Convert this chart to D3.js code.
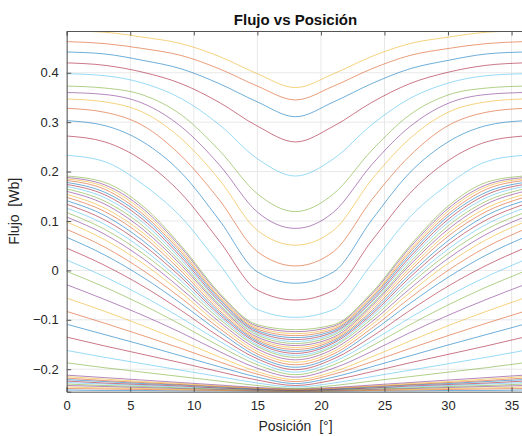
<!DOCTYPE html>
<html>
<head>
<meta charset="utf-8">
<script src="https://cdn.jsdelivr.net/npm/d3@7/dist/d3.min.js"></script>
<style>
body{margin:0;background:#fff;}
#my_dataviz{width:522px;height:436px;overflow:hidden;}
text{font-family:"Liberation Sans",Arial,sans-serif;}
</style>
</head>
<body>
<div id="my_dataviz"></div>
<script>
//Posiciones muestreadas [°]
var posicion = [0, 3, 6, 9, 12, 15, 18, 21, 24, 27, 30, 33, 36];
//Marcas de los ejes
var ticksX = [0, 5, 10, 15, 20, 25, 30, 35];
var ticksY = [-0.2, -0.1, 0, 0.1, 0.2, 0.3, 0.4];
var limX = [0, 36];
var limY = [-0.2455, 0.4845];
//Textos
var titulo = "Flujo vs Posición";
var etiquetaX = "Posición  [°]";
var etiquetaY = "Flujo  [Wb]";
//Flujo [Wb] de cada curva (de abajo hacia arriba)
var flujo = [
  [-0.242,-0.243,-0.243,-0.244,-0.244,-0.245,-0.245,-0.245,-0.244,-0.244,-0.243,-0.243,-0.242],
  [-0.239,-0.240,-0.241,-0.242,-0.243,-0.244,-0.245,-0.244,-0.243,-0.242,-0.241,-0.240,-0.239],
  [-0.236,-0.238,-0.239,-0.241,-0.242,-0.244,-0.245,-0.244,-0.242,-0.241,-0.239,-0.238,-0.236],
  [-0.233,-0.235,-0.237,-0.239,-0.241,-0.243,-0.244,-0.243,-0.241,-0.239,-0.237,-0.235,-0.233],
  [-0.230,-0.233,-0.235,-0.238,-0.240,-0.242,-0.244,-0.242,-0.240,-0.238,-0.235,-0.233,-0.230],
  [-0.227,-0.230,-0.233,-0.236,-0.238,-0.241,-0.243,-0.241,-0.238,-0.236,-0.233,-0.230,-0.227],
  [-0.224,-0.228,-0.231,-0.234,-0.238,-0.241,-0.243,-0.241,-0.238,-0.234,-0.231,-0.228,-0.224],
  [-0.221,-0.225,-0.229,-0.232,-0.236,-0.240,-0.242,-0.240,-0.236,-0.232,-0.229,-0.225,-0.221],
  [-0.218,-0.223,-0.227,-0.231,-0.235,-0.239,-0.242,-0.239,-0.235,-0.231,-0.227,-0.223,-0.218],
  [-0.215,-0.220,-0.225,-0.229,-0.234,-0.238,-0.241,-0.238,-0.234,-0.229,-0.225,-0.220,-0.215],
  [-0.212,-0.217,-0.222,-0.227,-0.232,-0.237,-0.240,-0.237,-0.232,-0.227,-0.222,-0.217,-0.212],
  [-0.187,-0.197,-0.206,-0.215,-0.224,-0.233,-0.239,-0.233,-0.224,-0.215,-0.206,-0.197,-0.187],
  [-0.162,-0.176,-0.189,-0.202,-0.215,-0.228,-0.236,-0.228,-0.215,-0.202,-0.189,-0.176,-0.162],
  [-0.135,-0.153,-0.170,-0.187,-0.205,-0.222,-0.233,-0.222,-0.205,-0.187,-0.170,-0.153,-0.135],
  [-0.109,-0.130,-0.151,-0.173,-0.195,-0.216,-0.229,-0.216,-0.195,-0.173,-0.151,-0.130,-0.109],
  [-0.083,-0.107,-0.132,-0.158,-0.185,-0.210,-0.225,-0.210,-0.185,-0.158,-0.132,-0.107,-0.083],
  [-0.056,-0.083,-0.112,-0.143,-0.175,-0.205,-0.221,-0.205,-0.175,-0.143,-0.112,-0.083,-0.056],
  [-0.029,-0.059,-0.091,-0.126,-0.164,-0.198,-0.216,-0.198,-0.164,-0.126,-0.091,-0.059,-0.029],
  [-0.002,-0.034,-0.070,-0.110,-0.153,-0.191,-0.211,-0.191,-0.153,-0.110,-0.070,-0.034,-0.002],
  [0.021,-0.013,-0.052,-0.096,-0.143,-0.185,-0.206,-0.185,-0.143,-0.096,-0.052,-0.013,0.021],
  [0.045,0.010,-0.032,-0.081,-0.134,-0.179,-0.201,-0.179,-0.134,-0.081,-0.032,0.010,0.045],
  [0.067,0.031,-0.014,-0.067,-0.124,-0.174,-0.196,-0.174,-0.124,-0.067,-0.014,0.031,0.067],
  [0.083,0.047,0.000,-0.056,-0.117,-0.169,-0.191,-0.169,-0.117,-0.056,0.000,0.047,0.083],
  [0.098,0.062,0.014,-0.045,-0.110,-0.164,-0.186,-0.164,-0.110,-0.045,0.014,0.062,0.098],
  [0.108,0.073,0.024,-0.037,-0.104,-0.159,-0.181,-0.159,-0.104,-0.037,0.024,0.073,0.108],
  [0.117,0.083,0.034,-0.028,-0.098,-0.154,-0.176,-0.154,-0.098,-0.028,0.034,0.083,0.117],
  [0.126,0.093,0.043,-0.021,-0.093,-0.151,-0.172,-0.151,-0.093,-0.021,0.043,0.093,0.126],
  [0.134,0.102,0.052,-0.014,-0.089,-0.147,-0.168,-0.147,-0.089,-0.014,0.052,0.102,0.134],
  [0.141,0.111,0.060,-0.008,-0.085,-0.144,-0.164,-0.144,-0.085,-0.008,0.060,0.111,0.141],
  [0.148,0.119,0.069,-0.001,-0.081,-0.141,-0.160,-0.141,-0.081,-0.001,0.069,0.119,0.148],
  [0.154,0.126,0.076,0.005,-0.076,-0.138,-0.156,-0.138,-0.076,0.005,0.076,0.126,0.154],
  [0.160,0.134,0.083,0.011,-0.072,-0.135,-0.152,-0.135,-0.072,0.011,0.083,0.134,0.160],
  [0.165,0.140,0.090,0.016,-0.069,-0.131,-0.148,-0.131,-0.069,0.016,0.090,0.140,0.165],
  [0.170,0.147,0.097,0.022,-0.065,-0.128,-0.144,-0.128,-0.065,0.022,0.097,0.147,0.170],
  [0.174,0.153,0.103,0.027,-0.062,-0.125,-0.140,-0.125,-0.062,0.027,0.103,0.153,0.174],
  [0.178,0.158,0.109,0.032,-0.058,-0.122,-0.136,-0.122,-0.058,0.032,0.109,0.158,0.178],
  [0.182,0.164,0.114,0.037,-0.055,-0.119,-0.132,-0.119,-0.055,0.037,0.114,0.164,0.182],
  [0.185,0.169,0.120,0.041,-0.052,-0.116,-0.128,-0.116,-0.052,0.041,0.120,0.169,0.185],
  [0.188,0.173,0.125,0.046,-0.048,-0.113,-0.124,-0.113,-0.048,0.046,0.125,0.173,0.188],
  [0.191,0.178,0.130,0.050,-0.045,-0.110,-0.120,-0.110,-0.045,0.050,0.130,0.178,0.191],
  [0.233,0.220,0.174,0.108,0.013,-0.079,-0.095,-0.079,0.013,0.108,0.174,0.220,0.233],
  [0.272,0.260,0.222,0.156,0.060,-0.040,-0.060,-0.040,0.060,0.156,0.222,0.260,0.272],
  [0.303,0.293,0.260,0.198,0.102,-0.003,-0.026,-0.003,0.102,0.198,0.260,0.293,0.303],
  [0.328,0.320,0.293,0.232,0.143,0.038,0.009,0.038,0.143,0.232,0.293,0.320,0.328],
  [0.347,0.341,0.320,0.267,0.184,0.081,0.051,0.081,0.184,0.267,0.320,0.341,0.347],
  [0.360,0.356,0.338,0.291,0.214,0.118,0.085,0.118,0.214,0.291,0.338,0.356,0.360],
  [0.373,0.369,0.355,0.315,0.243,0.155,0.119,0.155,0.243,0.315,0.355,0.369,0.373],
  [0.398,0.394,0.379,0.348,0.295,0.226,0.191,0.226,0.295,0.348,0.379,0.394,0.398],
  [0.420,0.415,0.401,0.378,0.340,0.292,0.260,0.292,0.340,0.378,0.401,0.415,0.420],
  [0.442,0.438,0.425,0.408,0.378,0.341,0.311,0.341,0.378,0.408,0.425,0.438,0.442],
  [0.463,0.459,0.449,0.435,0.408,0.373,0.345,0.373,0.408,0.435,0.449,0.459,0.463],
  [0.485,0.482,0.472,0.459,0.433,0.398,0.370,0.398,0.433,0.459,0.472,0.482,0.485]
];
//Orden de colores tipo MATLAB
var colores = ['#0072BD','#D95319','#EDB120','#7E2F8E','#77AC30','#4DBEEE','#A2142F'];

function graficoFlujo()
{
    var _chart = {};
    var _b = 522;   //base del svg
    var _h = 436;   //altura del svg
    var _margen = {arriba:31, derecha:-2.3, abajo:44.3, izquierda:66.7};
    var _svg;
    var _bodyV;

    _chart.lienzo = function()
    {
        _svg = d3.select("#my_dataviz")
                .append("svg")
                .attr("width",_b)
                .attr("height",_h)
                .style("background-color","#fff");
        dibujar();
    }

    function dibujar()
    {
        var ancho = _b - _margen.izquierda - _margen.derecha;
        var alto = _h - _margen.arriba - _margen.abajo;
        var x = d3.scaleLinear().domain(limX).range([0, ancho]);
        var y = d3.scaleLinear().domain(limY).range([alto, 0]);
        var gris = "#262626";

        _svg.append("defs")
                .append("clipPath")
                .attr("id","ventana")
                .append("rect")
                .attr("width",ancho)
                .attr("height",alto);

        var g = _svg.append("g")
                .attr("transform","translate("+_margen.izquierda+","+_margen.arriba+")");

        //rejilla
        g.append("g").selectAll("line").data(ticksX).enter().append("line")
                .attr("x1",function(d){return x(d);}).attr("x2",function(d){return x(d);})
                .attr("y1",0).attr("y2",alto)
                .attr("stroke","#e8e8e8").attr("stroke-width",1);
        g.append("g").selectAll("line").data(ticksY).enter().append("line")
                .attr("y1",function(d){return y(d);}).attr("y2",function(d){return y(d);})
                .attr("x1",0).attr("x2",ancho)
                .attr("stroke","#e8e8e8").attr("stroke-width",1);

        //curvas
        _bodyV = g.append("g").attr("clip-path","url(#ventana)");
        var linea = d3.line()
                .x(function(d,i){return x(posicion[i]);})
                .y(function(d){return y(d);})
                .curve(d3.curveMonotoneX);
        _bodyV.selectAll("path").data(flujo).enter().append("path")
                .attr("d",linea)
                .attr("fill","none")
                .attr("stroke",function(d,i){return colores[i%colores.length];})
                .attr("stroke-width",0.85)
                .attr("stroke-opacity",0.68);

        //ejes (ticks hacia adentro como en MATLAB)
        var ejeX = d3.axisBottom(x).tickValues(ticksX).tickSize(-4.5).tickPadding(9).tickFormat(d3.format("d"));
        var ejeXsup = d3.axisTop(x).tickValues(ticksX).tickSize(-4.5).tickFormat("");
        var ejeY = d3.axisLeft(y).tickValues(ticksY).tickSize(-4.5).tickPadding(8)
                .tickFormat(function(d){ return d === 0 ? "0" : d3.format(".1f")(d); });
        var gx = g.append("g").attr("transform","translate(0,"+alto+")").call(ejeX);
        var gxs = g.append("g").call(ejeXsup);
        var gy = g.append("g").call(ejeY);
        [gx,gxs,gy].forEach(function(e){
            e.select(".domain").attr("stroke","#555").attr("stroke-width",1);
            e.selectAll(".tick line").attr("stroke","#555");
            e.selectAll("text").attr("fill",gris).style("font-size","13px")
                .style("font-family","'Liberation Sans',Arial,sans-serif");
        });

        //textos
        _svg.append("text")
                .attr("x",_margen.izquierda + x(18))
                .attr("y",25)
                .attr("text-anchor","middle")
                .style("font-size","15px").style("font-weight","bold")
                .style("white-space","pre")
                .attr("fill","#111")
                .text(titulo);
        _svg.append("text")
                .attr("x",_margen.izquierda + x(18))
                .attr("y",431)
                .attr("text-anchor","middle")
                .style("font-size","14px").style("white-space","pre")
                .attr("fill",gris)
                .text(etiquetaX);
        _svg.append("text")
                .attr("transform","translate(19,"+(_margen.arriba + alto/2)+")rotate(-90)")
                .attr("text-anchor","middle")
                .style("font-size","14px").style("white-space","pre")
                .attr("fill",gris)
                .text(etiquetaY);
    }

    return _chart;
}

var dibujo = graficoFlujo();
dibujo.lienzo();
</script>
</body>
</html>
